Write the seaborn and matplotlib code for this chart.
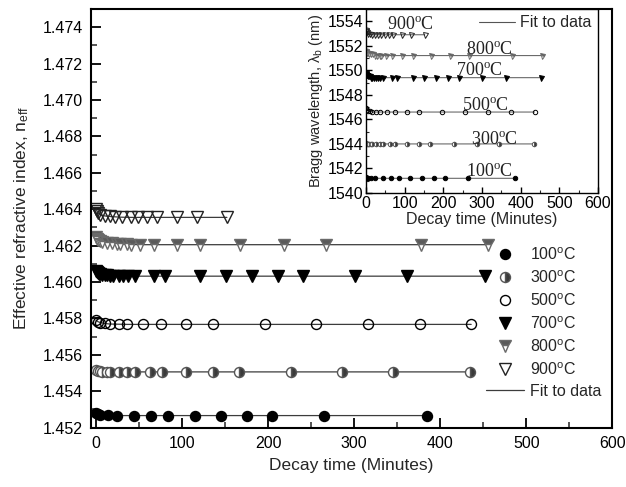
import numpy as np
import pandas as pd
import matplotlib
matplotlib.use("Agg")
import matplotlib.pyplot as plt
import seaborn as sns
from matplotlib.lines import Line2D
from matplotlib.ticker import MultipleLocator

sns.set_theme(style="ticks")
plt.rcParams["font.family"] = ["Liberation Sans", "DejaVu Sans"]
plt.rcParams["mathtext.fontset"] = "custom"
plt.rcParams["mathtext.rm"] = "Liberation Sans"

# ---------------- data ----------------
labels = ["100", "300", "500", "700", "800", "900"]

t_100 = [0, 2, 5, 14, 24, 44, 64, 84, 115, 145, 175, 205, 265, 385]
n_100 = [1.45282, 1.45274, 1.45270, 1.45267, 1.45266, 1.45266, 1.45266, 1.45266,
         1.45266, 1.45266, 1.45266, 1.45266, 1.45266, 1.45266]
b_100 = [1541.3, 1541.2, 1541.2, 1541.2, 1541.2, 1541.2, 1541.2, 1541.2,
         1541.2, 1541.2, 1541.2, 1541.2, 1541.2, 1541.2]

t_300 = [0, 2, 4, 7, 12, 16, 26, 36, 45, 63, 76, 105, 136, 166, 227, 286, 345, 435]
n_300 = [1.45515, 1.45512, 1.45510, 1.45508, 1.45507, 1.45506, 1.45506, 1.45506,
         1.45506, 1.45506, 1.45506, 1.45506, 1.45506, 1.45506, 1.45506, 1.45506,
         1.45506, 1.45506]
b_300 = [1544.1, 1544.0, 1544.0, 1544.0, 1544.0, 1544.0, 1544.0, 1544.0, 1544.0,
         1544.0, 1544.0, 1544.0, 1544.0, 1544.0, 1544.0, 1544.0, 1544.0, 1544.0]

t_500 = [0, 2, 5, 10, 16, 26, 36, 55, 75, 105, 136, 196, 256, 316, 376, 436]
n_500 = [1.45790, 1.45782, 1.45777, 1.45772, 1.45769, 1.45768, 1.45767, 1.45767,
         1.45767, 1.45767, 1.45767, 1.45767, 1.45767, 1.45767, 1.45767, 1.45767]
b_500 = [1546.9, 1546.8, 1546.7, 1546.7, 1546.6, 1546.6, 1546.6, 1546.6,
         1546.6, 1546.6, 1546.6, 1546.6, 1546.6, 1546.6, 1546.6, 1546.6]

t_700 = [0, 1, 2, 3, 5, 7, 10, 13, 16, 20, 26, 31, 37, 45, 67, 80, 121, 151, 181,
         211, 240, 301, 361, 452]
n_700 = [1.46062, 1.46055, 1.46050, 1.46046, 1.46043, 1.46040, 1.46038, 1.46036,
         1.46035, 1.46034, 1.46033, 1.46033, 1.46032, 1.46032, 1.46032, 1.46032,
         1.46032, 1.46032, 1.46032, 1.46032, 1.46032, 1.46032, 1.46032, 1.46032]
b_700 = [1549.8, 1549.7, 1549.6, 1549.6, 1549.5, 1549.5, 1549.5, 1549.4, 1549.4,
         1549.4, 1549.4, 1549.4, 1549.4, 1549.4, 1549.4, 1549.4, 1549.4, 1549.4,
         1549.4, 1549.4, 1549.4, 1549.4, 1549.4, 1549.4]

t_800 = [0, 1, 2, 4, 7, 12, 18, 24, 28, 36, 40, 51, 67, 94, 121, 167, 218, 267, 378, 455]
n_800 = [1.46245, 1.46238, 1.46232, 1.46226, 1.46220, 1.46215, 1.46212, 1.46210,
         1.46208, 1.46207, 1.46206, 1.46205, 1.46205, 1.46205, 1.46205, 1.46205,
         1.46205, 1.46205, 1.46205, 1.46205]
b_800 = [1551.6, 1551.5, 1551.4, 1551.4, 1551.3, 1551.3, 1551.3, 1551.2, 1551.2,
         1551.2, 1551.2, 1551.2, 1551.2, 1551.2, 1551.2, 1551.2, 1551.2, 1551.2,
         1551.2, 1551.2]

t_900 = [0, 1, 2, 5, 10, 16, 22, 30, 40, 49, 59, 71, 94, 117, 152]
n_900 = [1.46400, 1.46390, 1.46380, 1.46370, 1.46363, 1.46360, 1.46358, 1.46356,
         1.46355, 1.46355, 1.46355, 1.46355, 1.46355, 1.46355, 1.46355]
b_900 = [1553.3, 1553.2, 1553.1, 1553.0, 1553.0, 1552.9, 1552.9, 1552.9, 1552.9,
         1552.9, 1552.9, 1552.9, 1552.9, 1552.9, 1552.9]

times = [t_100, t_300, t_500, t_700, t_800, t_900]
neffs = [n_100, n_300, n_500, n_700, n_800, n_900]
braggs = [b_100, b_300, b_500, b_700, b_800, b_900]

# inset annotation positions (x in minutes, y in nm)
ann_x = [320, 333, 310, 293, 320, 114]
ann_y = [1541.75, 1544.4, 1547.15, 1549.95, 1551.7, 1553.75]

# marker styles
styles = [
    dict(marker="o", fillstyle="full", markerfacecolor="black", markeredgecolor="black"),
    dict(marker="o", fillstyle="right", markerfacecolor="#3a3a3a",
         markerfacecoloralt="white", markeredgecolor="#555555"),
    dict(marker="o", fillstyle="none", markerfacecolor="none", markeredgecolor="black"),
    dict(marker="v", fillstyle="full", markerfacecolor="black", markeredgecolor="black"),
    dict(marker="v", fillstyle="top", markerfacecolor="#5a5a5a",
         markerfacecoloralt="white", markeredgecolor="#6a6a6a"),
    dict(marker="v", fillstyle="none", markerfacecolor="none", markeredgecolor="#222222"),
]
msize_main = [7.2, 7.2, 7.2, 8.2, 8.2, 8.2]
msize_in = [3.2, 3.2, 3.2, 3.6, 3.6, 3.6]

fig = plt.figure(figsize=(6.26, 4.87), dpi=100)
ax = fig.add_axes([0.1454, 0.122, 0.8326, 0.8595])
axin = fig.add_axes([0.5847, 0.6037, 0.3706, 0.3778])

fitc = "#3c3c3c"
# ---------------- main axes ----------------
for i, lab in enumerate(labels):
    df = pd.DataFrame({"t": times[i], "n": neffs[i]})
    sns.lineplot(data=df, x="t", y="n", ax=ax, color=fitc, lw=0.9,
                 estimator=None, sort=False,
                 label="Fit to data" if i == 0 else None, legend=False)
for i, lab in enumerate(labels):
    df = pd.DataFrame({"t": times[i], "n": neffs[i]})
    sns.lineplot(data=df, x="t", y="n", ax=ax, linestyle="none",
                 markersize=msize_main[i], markeredgewidth=1.0,
                 estimator=None, sort=False, legend=False,
                 label=lab + r"$\mathregular{^o}$C", **styles[i])

ax.set_xlim(-6, 600)
ax.set_ylim(1.452, 1.475)
ax.xaxis.set_major_locator(MultipleLocator(100))
ax.xaxis.set_minor_locator(MultipleLocator(50))
ax.yaxis.set_major_locator(MultipleLocator(0.002))
ax.yaxis.set_minor_locator(MultipleLocator(0.001))
ax.yaxis.set_major_formatter(plt.FuncFormatter(lambda v, p: f"{v:.3f}"))
ax.tick_params(which="major", direction="in", length=7, width=1.3,
               labelsize=11.5, colors="black", pad=6, right=False, top=False)
ax.tick_params(which="minor", direction="in", length=4, width=1.1,
               right=False, top=False)
for sp in ax.spines.values():
    sp.set_linewidth(1.5)
    sp.set_color("black")
ax.set_xlabel("Decay time (Minutes)", fontsize=12.5, labelpad=5)
ax.set_ylabel(r"Effective refractive index, n$\mathregular{_{eff}}$", fontsize=12.5,
              labelpad=8)

h, l = ax.get_legend_handles_labels()
order = [l.index(lab + r"$\mathregular{^o}$C") for lab in labels] + [l.index("Fit to data")]
ax.legend([h[k] for k in order], [l[k] for k in order], frameon=False,
          loc="upper left", bbox_to_anchor=(0.745, 0.449), fontsize=11.5,
          handlelength=2.4, handletextpad=0.35, labelspacing=0.4,
          borderaxespad=0)

# ---------------- inset ----------------
axin.set_facecolor("white")
for i, lab in enumerate(labels):
    df = pd.DataFrame({"t": times[i], "b": braggs[i]})
    sns.lineplot(data=df, x="t", y="b", ax=axin, color="#555555", lw=0.7,
                 estimator=None, sort=False, legend=False)
    sns.lineplot(data=df, x="t", y="b", ax=axin, linestyle="none",
                 markersize=msize_in[i], markeredgewidth=0.7,
                 estimator=None, sort=False, legend=False, **styles[i])
    axin.text(ann_x[i], ann_y[i], lab + r"$\mathregular{^o}$C",
              family=["Liberation Serif", "DejaVu Serif"], fontsize=13,
              ha="center", va="center", color="#222222")

axin.set_xlim(0, 600)
axin.set_ylim(1540, 1555)
axin.xaxis.set_major_locator(MultipleLocator(100))
axin.xaxis.set_minor_locator(MultipleLocator(50))
axin.yaxis.set_major_locator(MultipleLocator(2))
axin.yaxis.set_minor_locator(MultipleLocator(1))
axin.tick_params(which="major", direction="in", length=4, width=1.0,
                 labelsize=11.5, pad=2, colors="black")
axin.tick_params(which="minor", direction="in", length=2.5, width=0.8)
for sp in axin.spines.values():
    sp.set_linewidth(1.0)
    sp.set_color("black")
axin.set_xlabel("Decay time (Minutes)", fontsize=11.5, labelpad=1)
axin.set_ylabel(r"Bragg wavelength, λ$\mathregular{_b}$ (nm)", fontsize=10.5,
                labelpad=2)
axin.legend([Line2D([], [], color="#555555", lw=0.8)], ["Fit to data"],
            frameon=False, loc="upper right", fontsize=11.5, handlelength=2.3,
            handletextpad=0.3, borderaxespad=0.2, borderpad=0.2)

fig.savefig("out.png", dpi=100)
